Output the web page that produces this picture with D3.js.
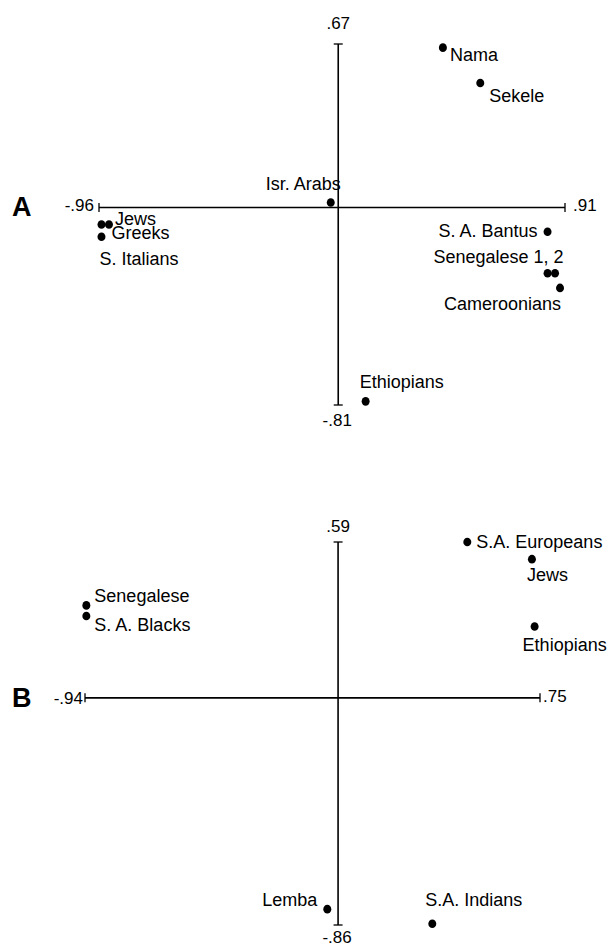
<!DOCTYPE html>
<html>
<head>
<meta charset="utf-8">
<script src="https://cdn.jsdelivr.net/npm/d3@7/dist/d3.min.js"></script>
<style>
  html, body { margin: 0; padding: 0; background: #fff; }
  svg { display: block; }
  text { font-family: "Liberation Sans", Arial, Helvetica, sans-serif; fill: #000; }
</style>
</head>
<body>
<svg id="chart" width="610" height="949"></svg>
<script>
// ---------- Panel A data ----------
const groupsA = ["Nama", "Sekele", "Isr. Arabs", "Jews", "Greeks", "S. Italians",
                 "S. A. Bantus", "Senegalese 1", "Senegalese 2", "Cameroonians", "Ethiopians"];
const labelsA = ["Nama", "Sekele", "Isr. Arabs", "Jews", "Greeks", "S. Italians",
                 "S. A. Bantus", "Senegalese 1, 2", "", "Cameroonians", "Ethiopians"];
const xA = [0.42, 0.57, -0.03, -0.92, -0.95, -0.95, 0.84, 0.84, 0.87, 0.89, 0.11];
const yA = [0.655, 0.51, 0.02, -0.07, -0.07, -0.12, -0.10, -0.27, -0.27, -0.33, -0.795];
const extentXA = [-0.96, 0.91];
const extentYA = [-0.81, 0.67];
const tickLabelsA = ["-.96", ".91", "-.81", ".67"];

// ---------- Panel B data ----------
const groupsB = ["S.A. Europeans", "Jews", "Ethiopians", "Senegalese", "S. A. Blacks", "Lemba", "S.A. Indians"];
const labelsB = ["S.A. Europeans", "Jews", "Ethiopians", "Senegalese", "S. A. Blacks", "Lemba", "S.A. Indians"];
const xB = [0.48, 0.72, 0.73, -0.935, -0.935, -0.04, 0.35];
const yB = [0.59, 0.525, 0.27, 0.35, 0.31, -0.80, -0.855];
const extentXB = [-0.94, 0.75];
const extentYB = [-0.86, 0.59];
const tickLabelsB = ["-.94", ".75", "-.86", ".59"];

// ---------- layout (offsets of labels from their points, in px) ----------
const labelLayoutA = [
  {dx: 7, dy: 7, anchor: "start"},
  {dx: 9, dy: 13, anchor: "start"},
  {dx: 10, dy: -19, anchor: "end"},
  {dx: 6, dy: -6, anchor: "start"},
  {dx: 10, dy: 8, anchor: "start"},
  {dx: -2, dy: 22, anchor: "start"},
  {dx: -10, dy: -1, anchor: "end"},
  {dx: 16, dy: -16, anchor: "end"},
  {dx: 0, dy: 0, anchor: "start"},
  {dx: 1, dy: 16, anchor: "end"},
  {dx: -6, dy: -19, anchor: "start"}
];
const labelLayoutB = [
  {dx: 9, dy: 0, anchor: "start"},
  {dx: -5, dy: 16, anchor: "start"},
  {dx: -12, dy: 18, anchor: "start"},
  {dx: 8, dy: -9, anchor: "start"},
  {dx: 8, dy: 9, anchor: "start"},
  {dx: -10, dy: -9, anchor: "end"},
  {dx: -7, dy: -24, anchor: "start"}
];

const svg = d3.select("#chart");

function drawPanel(cfg) {
  const g = svg.append("g");
  const x = d3.scaleLinear().domain(cfg.extentX).range(cfg.rangeX);
  const y = d3.scaleLinear().domain(cfg.extentY).range(cfg.rangeY);
  const x0 = x(0), y0 = y(0);
  const cap = 4.5;
  const axisStyle = s => s.attr("stroke", "#000").attr("stroke-width", 1.6).attr("fill", "none");

  // horizontal axis
  g.append("line").attr("x1", x(cfg.extentX[0])).attr("x2", x(cfg.extentX[1]))
    .attr("y1", y0).attr("y2", y0).call(axisStyle);
  // vertical axis
  g.append("line").attr("x1", x0).attr("x2", x0)
    .attr("y1", y(cfg.extentY[0])).attr("y2", y(cfg.extentY[1])).call(axisStyle);
  // end caps
  cfg.extentX.forEach(v => g.append("line").attr("x1", x(v)).attr("x2", x(v))
    .attr("y1", y0 - cap).attr("y2", y0 + cap).call(axisStyle).attr("stroke-width", 1.3));
  cfg.extentY.forEach(v => g.append("line").attr("y1", y(v)).attr("y2", y(v))
    .attr("x1", x0 - cap).attr("x2", x0 + cap).call(axisStyle).attr("stroke-width", 1.3));

  // extreme value labels
  const tl = cfg.tickLabels;
  const fsN = 17;
  g.append("text").attr("x", x(cfg.extentX[0]) + cfg.tickOff.left[0]).attr("y", y0 + cfg.tickOff.left[1])
    .attr("text-anchor", "end").attr("font-size", fsN).text(tl[0]);
  g.append("text").attr("x", x(cfg.extentX[1]) + cfg.tickOff.right[0]).attr("y", y0 + cfg.tickOff.right[1])
    .attr("text-anchor", "start").attr("font-size", fsN).text(tl[1]);
  g.append("text").attr("x", x0 + cfg.tickOff.bottom[0]).attr("y", y(cfg.extentY[0]) + cfg.tickOff.bottom[1])
    .attr("text-anchor", "middle").attr("font-size", fsN).text(tl[2]);
  g.append("text").attr("x", x0 + cfg.tickOff.top[0]).attr("y", y(cfg.extentY[1]) + cfg.tickOff.top[1])
    .attr("text-anchor", "middle").attr("font-size", fsN).text(tl[3]);

  // panel letter
  g.append("text").attr("x", 12).attr("y", y0 + 9).attr("font-size", 27)
    .attr("font-weight", "bold").text(cfg.letter);

  // points
  const data = cfg.groups.map((name, i) => ({name, label: cfg.labels[i], x: cfg.xs[i], y: cfg.ys[i], lay: cfg.layout[i]}));
  g.selectAll("ellipse.pt").data(data).join("ellipse").attr("class", "pt")
    .attr("cx", d => x(d.x)).attr("cy", d => y(d.y)).attr("rx", 4).attr("ry", 4.3).attr("fill", "#000");

  // labels
  g.selectAll("text.lbl").data(data.filter(d => d.label)).join("text").attr("class", "lbl")
    .attr("x", d => x(d.x) + d.lay.dx)
    .attr("y", d => y(d.y) + d.lay.dy + 6)
    .attr("text-anchor", d => d.lay.anchor)
    .attr("font-size", 18)
    .text(d => d.label);
}

drawPanel({
  letter: "A",
  groups: groupsA, labels: labelsA, xs: xA, ys: yA, layout: labelLayoutA,
  extentX: extentXA, extentY: extentYA, tickLabels: tickLabelsA,
  rangeX: [99, 565], rangeY: [405, 44],
  tickOff: {left: [-5, 4], right: [8, 4], bottom: [-1, 21], top: [0, -15]}
});

drawPanel({
  letter: "B",
  groups: groupsB, labels: labelsB, xs: xB, ys: yB, layout: labelLayoutB,
  extentX: extentXB, extentY: extentYB, tickLabels: tickLabelsB,
  rangeX: [85, 540], rangeY: [925, 542],
  tickOff: {left: [-2, 6], right: [3, 4], bottom: [-1, 18], top: [0, -10]}
});
</script>
</body>
</html>
